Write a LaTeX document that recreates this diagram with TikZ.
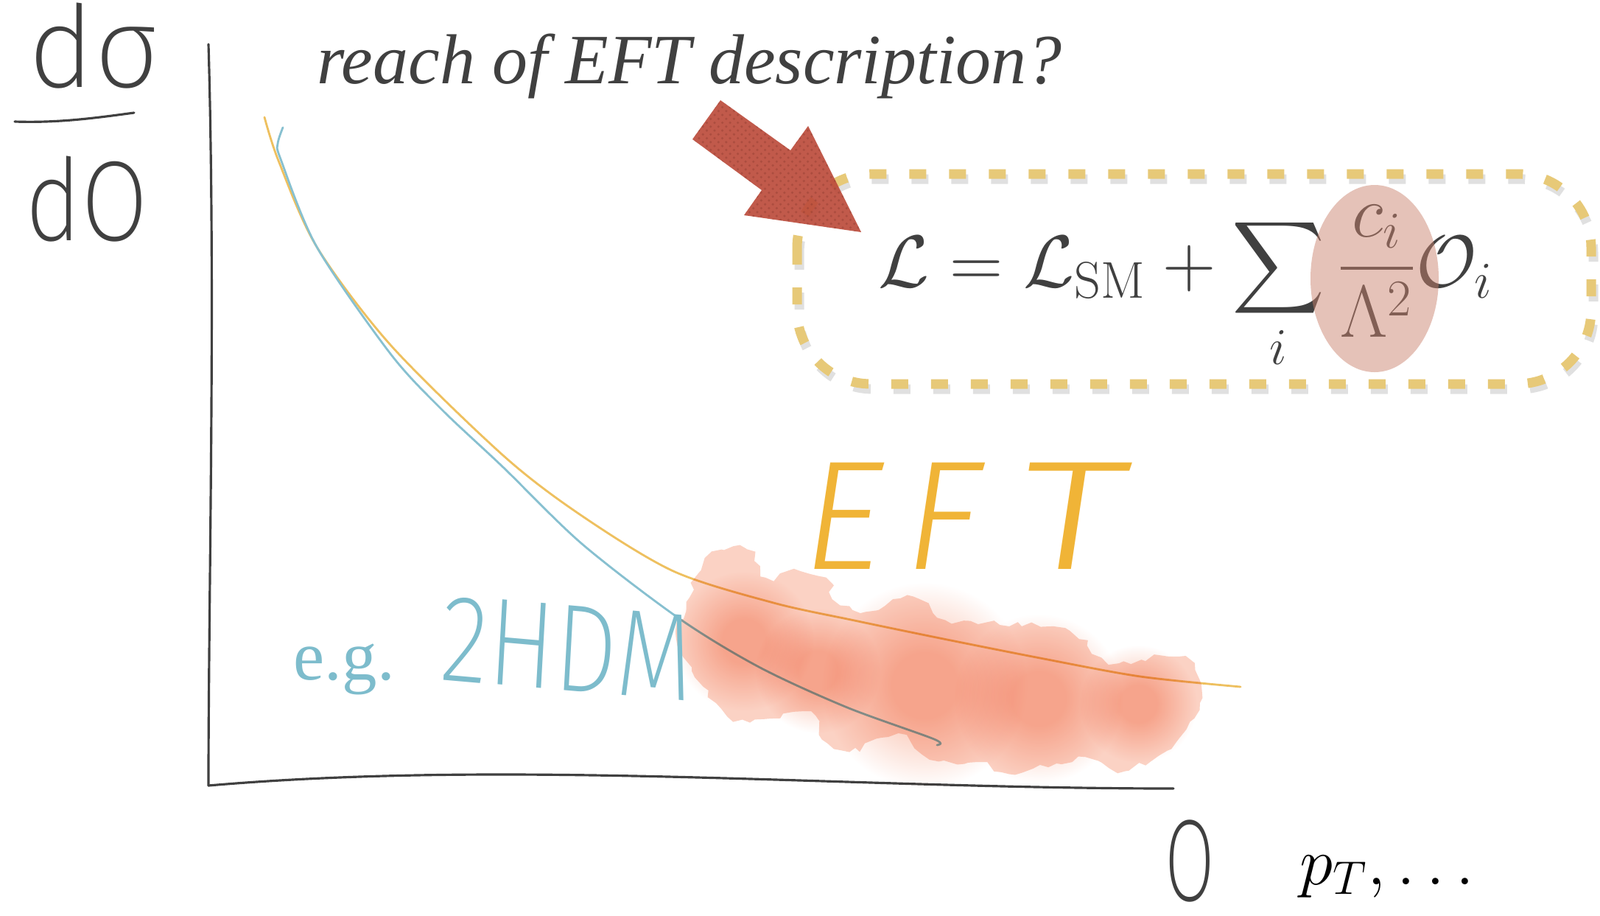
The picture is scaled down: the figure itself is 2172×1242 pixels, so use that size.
\RequirePackage{fix-cm}
\documentclass[tikz,border=0pt]{standalone}
\usepackage{amsmath}
\usepackage{graphicx}
\usepackage{fontspec}
\usepackage{xcolor}
\usepackage{tikz}
\usetikzlibrary{positioning,patterns,decorations.pathmorphing}
\newfontfamily\notefont{Liberation Serif}
\newfontfamily\handfont{Fira Sans Light}
\IfFontExistsTF{Fira Sans ExtraLight}{\newfontfamily\thinhand{Fira Sans ExtraLight}}{\newfontfamily\thinhand{Fira Sans Light}}
\definecolor{inkgray}{RGB}{64,64,64}
\definecolor{eftorange}{RGB}{240,180,55}
\definecolor{eftline}{RGB}{238,192,95}
\definecolor{hdmblue}{RGB}{125,188,204}
\definecolor{hdmline}{RGB}{135,192,208}
\definecolor{boxyellow}{RGB}{231,201,120}
\definecolor{arrowred}{RGB}{188,76,60}
\definecolor{blushpink}{RGB}{202,129,108}
\definecolor{cloudwash}{RGB}{251,210,196}
\definecolor{cloudcore}{RGB}{250,200,183}
\pgfdeclareradialshading{cloudblob}{\pgfpoint{0bp}{0bp}}{color(0bp)=(cloudcore); color(8bp)=(cloudcore); color(25bp)=(white); color(50bp)=(white)}
\tikzset{
  axisline/.style={draw=inkgray, line width=0.9pt, line cap=round},
  eftcurve/.style={draw=eftline, line width=0.8pt, line cap=round},
  hdmcurve/.style={draw=hdmline, line width=0.8pt, line cap=round},
  handnote/.style={inner sep=0pt, font=\handfont},
  thinnote/.style={inner sep=0pt, text=inkgray, font=\thinhand\fontsize{44}{48}\selectfont},
  dashbox/.style={draw=boxyellow, line width=3.7pt, dash pattern=on 2.3mm off 3.1mm, rounded corners=10mm},
  formula/.style={inner sep=0pt, text=inkgray, font=\fontsize{28.5}{32}\selectfont},
  wash/.style={fill=cloudwash, decorate, decoration={random steps, segment length=3pt, amplitude=1.2pt}},
  blob/.style={shading=cloudblob}
}

\begin{document}
\begin{tikzpicture}[x=0.1mm,y=-0.1mm]
  \useasboundingbox (0,0) rectangle (2172,1242);
  \fill[white] (0,0) rectangle (2172,1242);

  % axes
  \coordinate (ytop) at (283,60);
  \coordinate (origin) at (283,1066);
  \coordinate (xend) at (1593,1070);
  \draw[axisline] (ytop) .. controls (293,400) and (283,800) .. (origin);
  \draw[axisline] (origin) .. controls (700,1030) and (1150,1070) .. (xend);

  % axis labels
  \node[thinnote, anchor=base] (num) at (128,118) {dσ};
  \node[thinnote, anchor=base, xscale=0.85] (den) at (118,326) {dO};
  \coordinate (barl) at (20,165);
  \coordinate (barr) at (182,153);
  \draw[axisline] (barl) .. controls (80,167) and (130,160) .. (barr);
  \node[thinnote, font=\thinhand\fontsize{45}{50}\selectfont, xscale=0.62] (xlab) at (1615,1168) {O};
  \node[inner sep=0pt, font=\fontsize{26}{30}\selectfont, anchor=base west] (xvar) at (1764,1200) {$p_T, \ldots$};

  % curves
  \draw[eftcurve] plot[smooth] coordinates {(359,159) (378,218) (430,335) (530,468) (683,618) (787,698) (914,775) (1050,818) (1160,842) (1276,866) (1412,893) (1548,918) (1684,932)};
  \draw[hdmcurve] plot[smooth] coordinates {(384,173) (377,195) (381,216) (430,335) (530,480) (600,556) (683,634) (790,738) (923,840) (1032,906) (1150,960) (1268,1003) (1272,1011)};

  % cloud
  \begin{scope}[blend mode=multiply]
    \path[wash] plot[smooth cycle, tension=0.6] coordinates {(958,758) (1013,745) (1040,783) (1078,773) (1121,785) (1132,812) (1175,830) (1240,810) (1284,840) (1338,845) (1446,853) (1506,900) (1576,890) (1620,903) (1628,954) (1598,1005) (1527,1046) (1473,1030) (1370,1050) (1338,1038) (1262,1030) (1218,998) (1153,1020) (1116,1003) (1099,968) (1018,980) (980,962) (920,876) (931,829)};
    \shade[blob] (1010,870) circle (95);
    \shade[blob] (1110,910) circle (85);
    \shade[blob] (1255,930) circle (140);
    \shade[blob] (1410,948) circle (115);
    \shade[blob] (1545,955) circle (80);
  \end{scope}

  % labels
  \node[inner sep=0pt, font=\notefont\fontsize{27}{30}\selectfont, text=hdmblue, anchor=base west] (eg) at (398,922) {e.g.};
  \node[handnote, font=\thinhand\fontsize{48}{52}\selectfont, text=hdmblue, xscale=0.8, rotate=-4, base right=6mm of eg] (hdm) {2HDM};
  \node[handnote, font=\handfont\fontsize{60}{64}\selectfont, text=eftorange, xslant=0.15, anchor=base west] (eft) at (1082,772) {E\hspace{3mm}F\hspace{5mm}\scalebox{1.4}[1]{T}};

  % question and Lagrangian
  \node[inner sep=0pt, font=\notefont\itshape\fontsize{27.3}{32}\selectfont, text=inkgray, anchor=base] (title) at (936,113) {reach of EFT description?};
  \draw[dashbox, draw=black, opacity=0.12, shift={(3,7)}] (1082,236) rectangle (2160,521);
  \draw[dashbox] (1082,236) rectangle (2160,521);
  \node[formula, anchor=base west] (lagr) at (1192,389) {$\displaystyle \mathcal{L} = \mathcal{L}_{\mathrm{SM}} + \sum_i \frac{c_i}{\Lambda^2}\mathcal{O}_i$};
  \fill[blushpink, fill opacity=0.48] (1866,378) ellipse [x radius=87, y radius=127];

  % arrow
  \fill[arrowred, fill opacity=0.92] (978,136) -- (1073,204) -- (1097,171) -- (1169,315) -- (1010,292) -- (1034,258) -- (940,189) -- cycle;
  \fill[pattern=crosshatch dots, pattern color=arrowred!70!black, opacity=0.35] (978,136) -- (1073,204) -- (1097,171) -- (1169,315) -- (1010,292) -- (1034,258) -- (940,189) -- cycle;
\end{tikzpicture}
\end{document}
